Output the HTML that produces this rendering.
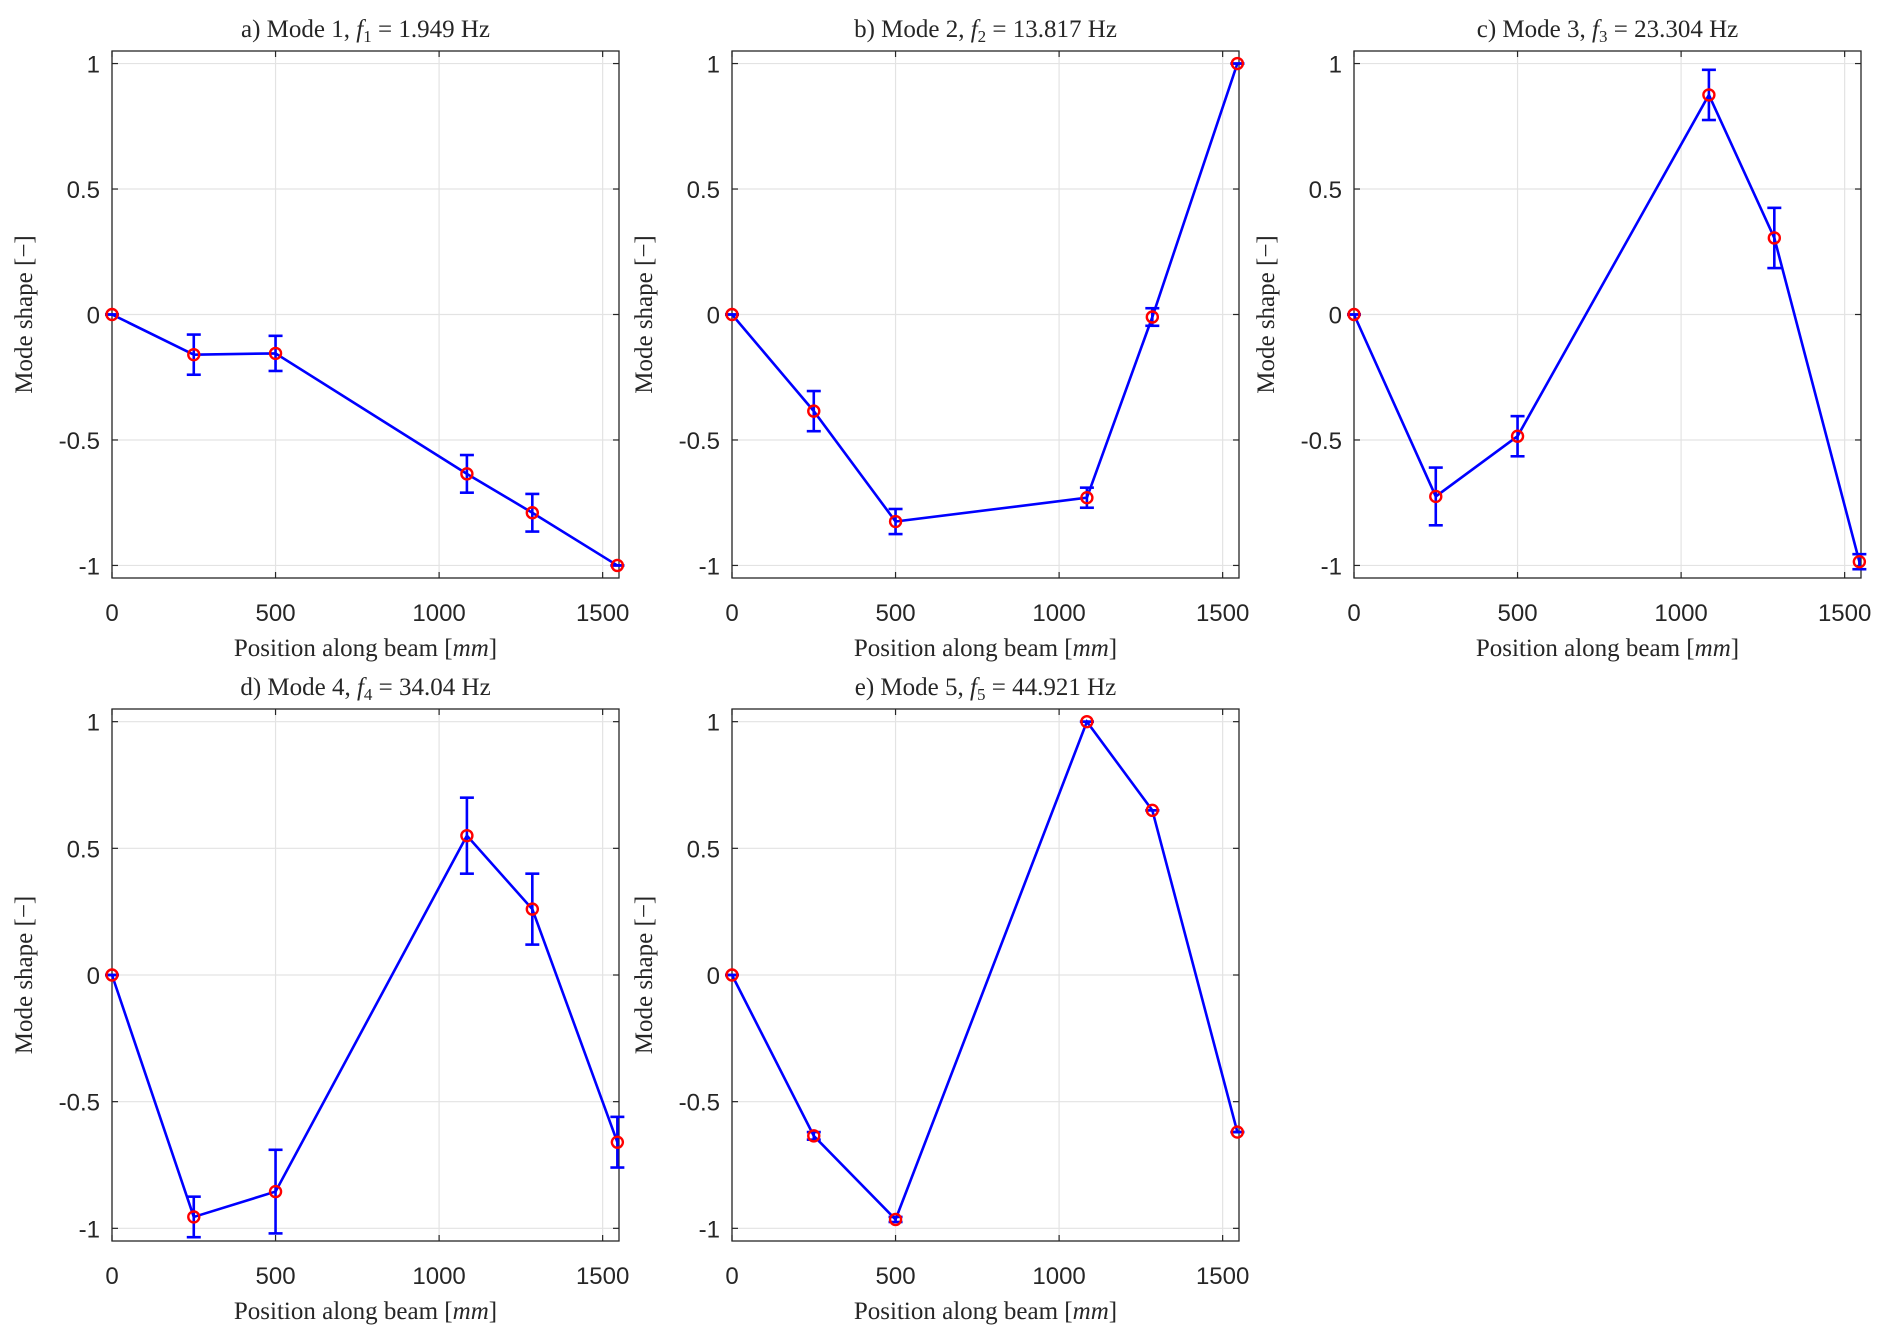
<!DOCTYPE html>
<html><head><meta charset="utf-8"><style>
body{margin:0;background:#fff;}
svg{display:block;}
.tk{font-family:"Liberation Sans",Arial,sans-serif;font-size:24px;fill:#262626;}
.ser{font-family:"Liberation Serif",serif;font-size:25px;fill:#262626;}
</style></head><body>
<svg id="fig" width="1892" height="1334" viewBox="0 0 1892 1334" xmlns="http://www.w3.org/2000/svg"></svg>
<script>
const positions = [0, 250, 500, 1085, 1285, 1545];
const mode1 = [0, -0.16, -0.155, -0.635, -0.79, -1];
const mode1Err = [0, 0.08, 0.07, 0.075, 0.075, 0];
const mode2 = [0, -0.385, -0.825, -0.73, -0.01, 1];
const mode2Err = [0, 0.08, 0.05, 0.04, 0.035, 0];
const mode3 = [0, -0.725, -0.485, 0.875, 0.305, -0.985];
const mode3Err = [0, 0.115, 0.08, 0.1, 0.12, 0.03];
const mode4 = [0, -0.955, -0.855, 0.55, 0.26, -0.66];
const mode4Err = [0, 0.08, 0.165, 0.15, 0.14, 0.1];
const mode5 = [0, -0.635, -0.965, 1.0, 0.65, -0.62];
const mode5Err = [0, 0.015, 0.01, 0, 0, 0];
const titlesPrefix = ["a) Mode 1, ", "b) Mode 2, ", "c) Mode 3, ", "d) Mode 4, ", "e) Mode 5, "];
const freqs = ["1.949", "13.817", "23.304", "34.04", "44.921"];
const xTicks = [0, 500, 1000, 1500];
const xTickLabels = ["0", "500", "1000", "1500"];
const yTicks = [1, 0.5, 0, -0.5, -1];
const yTickLabels = ["1", "0.5", "0", "-0.5", "-1"];

const NS = "http://www.w3.org/2000/svg";
const svg = document.getElementById('fig');
function mk(tag, attrs, parent, text){
  const e = document.createElementNS(NS, tag);
  for (const k in attrs) e.setAttribute(k, attrs[k]);
  if (text !== undefined) e.textContent = text;
  (parent || svg).appendChild(e);
  return e;
}
const panels = [
  {left:112, top:51, h:527, vals:mode1, errs:mode1Err},
  {left:732, top:51, h:527, vals:mode2, errs:mode2Err},
  {left:1354, top:51, h:527, vals:mode3, errs:mode3Err},
  {left:112, top:709, h:532, vals:mode4, errs:mode4Err},
  {left:732, top:709, h:532, vals:mode5, errs:mode5Err}
];
const XMAX = 1550, YMIN = -1.05, YMAX = 1.05, W = 507;

panels.forEach((p, i) => {
  const H = p.h;
  const g = mk('g', {});
  
  
  const sx = v => p.left + v / XMAX * W;
  const sy = v => p.top + (YMAX - v) / (YMAX - YMIN) * H;
  xTicks.forEach(t => {
    const l = mk('line', {x1:sx(t), x2:sx(t), y1:p.top, y2:p.top+H, stroke:'#e3e3e3', 'stroke-width':1.2}, g);
    
    
  });
  yTicks.forEach(t => {
    const l = mk('line', {x1:p.left, x2:p.left+W, y1:sy(t), y2:sy(t), stroke:'#e3e3e3', 'stroke-width':1.2}, g);
    
    
  });
  const box = mk('rect', {x:p.left, y:p.top, width:W, height:H, fill:'none', stroke:'#262626', 'stroke-width':1.3}, g);
  
  
  xTicks.forEach((t, k) => {
    mk('line', {x1:sx(t), x2:sx(t), y1:p.top+H, y2:p.top+H-6, stroke:'#262626', 'stroke-width':1.2}, g);
    mk('line', {x1:sx(t), x2:sx(t), y1:p.top, y2:p.top+6, stroke:'#262626', 'stroke-width':1.2}, g);
    const tx = mk('text', {x:sx(t), y:p.top+H+43, 'text-anchor':'middle', class:'tk'}, g, xTickLabels[k]);
    
    
  });
  yTicks.forEach((t, k) => {
    mk('line', {x1:p.left, x2:p.left+6, y1:sy(t), y2:sy(t), stroke:'#262626', 'stroke-width':1.2}, g);
    mk('line', {x1:p.left+W, x2:p.left+W-6, y1:sy(t), y2:sy(t), stroke:'#262626', 'stroke-width':1.2}, g);
    const ty = mk('text', {x:p.left-12, y:sy(t)+9, 'text-anchor':'end', class:'tk'}, g, yTickLabels[k]);
    
    
  });
  const tt = mk('text', {x:p.left+W/2, y:p.top-14, 'text-anchor':'middle', class:'ser'}, g);
  
  
  mk('tspan', {}, tt, titlesPrefix[i]);
  mk('tspan', {'font-style':'italic'}, tt, 'f');
  mk('tspan', {'font-size':'17', dy:'5'}, tt, String(i+1));
  mk('tspan', {dy:'-5'}, tt, ' = ' + freqs[i] + ' Hz');
  const xl = mk('text', {x:p.left+W/2, y:p.top+H+78, 'text-anchor':'middle', class:'ser'}, g);
  
  
  mk('tspan', {}, xl, 'Position along beam [');
  mk('tspan', {'font-style':'italic'}, xl, 'mm');
  mk('tspan', {}, xl, ']');
  const cy = p.top + H/2;
  const yx = p.left - 80;
  const yl = mk('text', {x:yx, y:cy, 'text-anchor':'middle', class:'ser', transform:'rotate(-90 '+yx+' '+cy+')'}, g, 'Mode shape [\u2212]');
  
  
  const pts = positions.map((x, k) => sx(x) + ',' + sy(p.vals[k])).join(' ');
  const pl = mk('polyline', {points:pts, fill:'none', stroke:'#0000ff', 'stroke-width':2.6}, g);
  
  
  positions.forEach((x, k) => {
    const e = p.errs[k];
    const X = sx(x), y1 = sy(p.vals[k] + e), y2 = sy(p.vals[k] - e);
    const eg = mk('g', {stroke:'#0000ff', 'stroke-width':2.6}, g);
    
    
    mk('line', {x1:X, x2:X, y1:y1, y2:y2}, eg);
    mk('line', {x1:X-7, x2:X+7, y1:y1, y2:y1}, eg);
    mk('line', {x1:X-7, x2:X+7, y1:y2, y2:y2}, eg);
  });
  positions.forEach((x, k) => {
    const c = mk('circle', {cx:sx(x), cy:sy(p.vals[k]), r:5.5, fill:'none', stroke:'#ff0000', 'stroke-width':2.4}, g);
    
    
  });
});
</script>
</body></html>
